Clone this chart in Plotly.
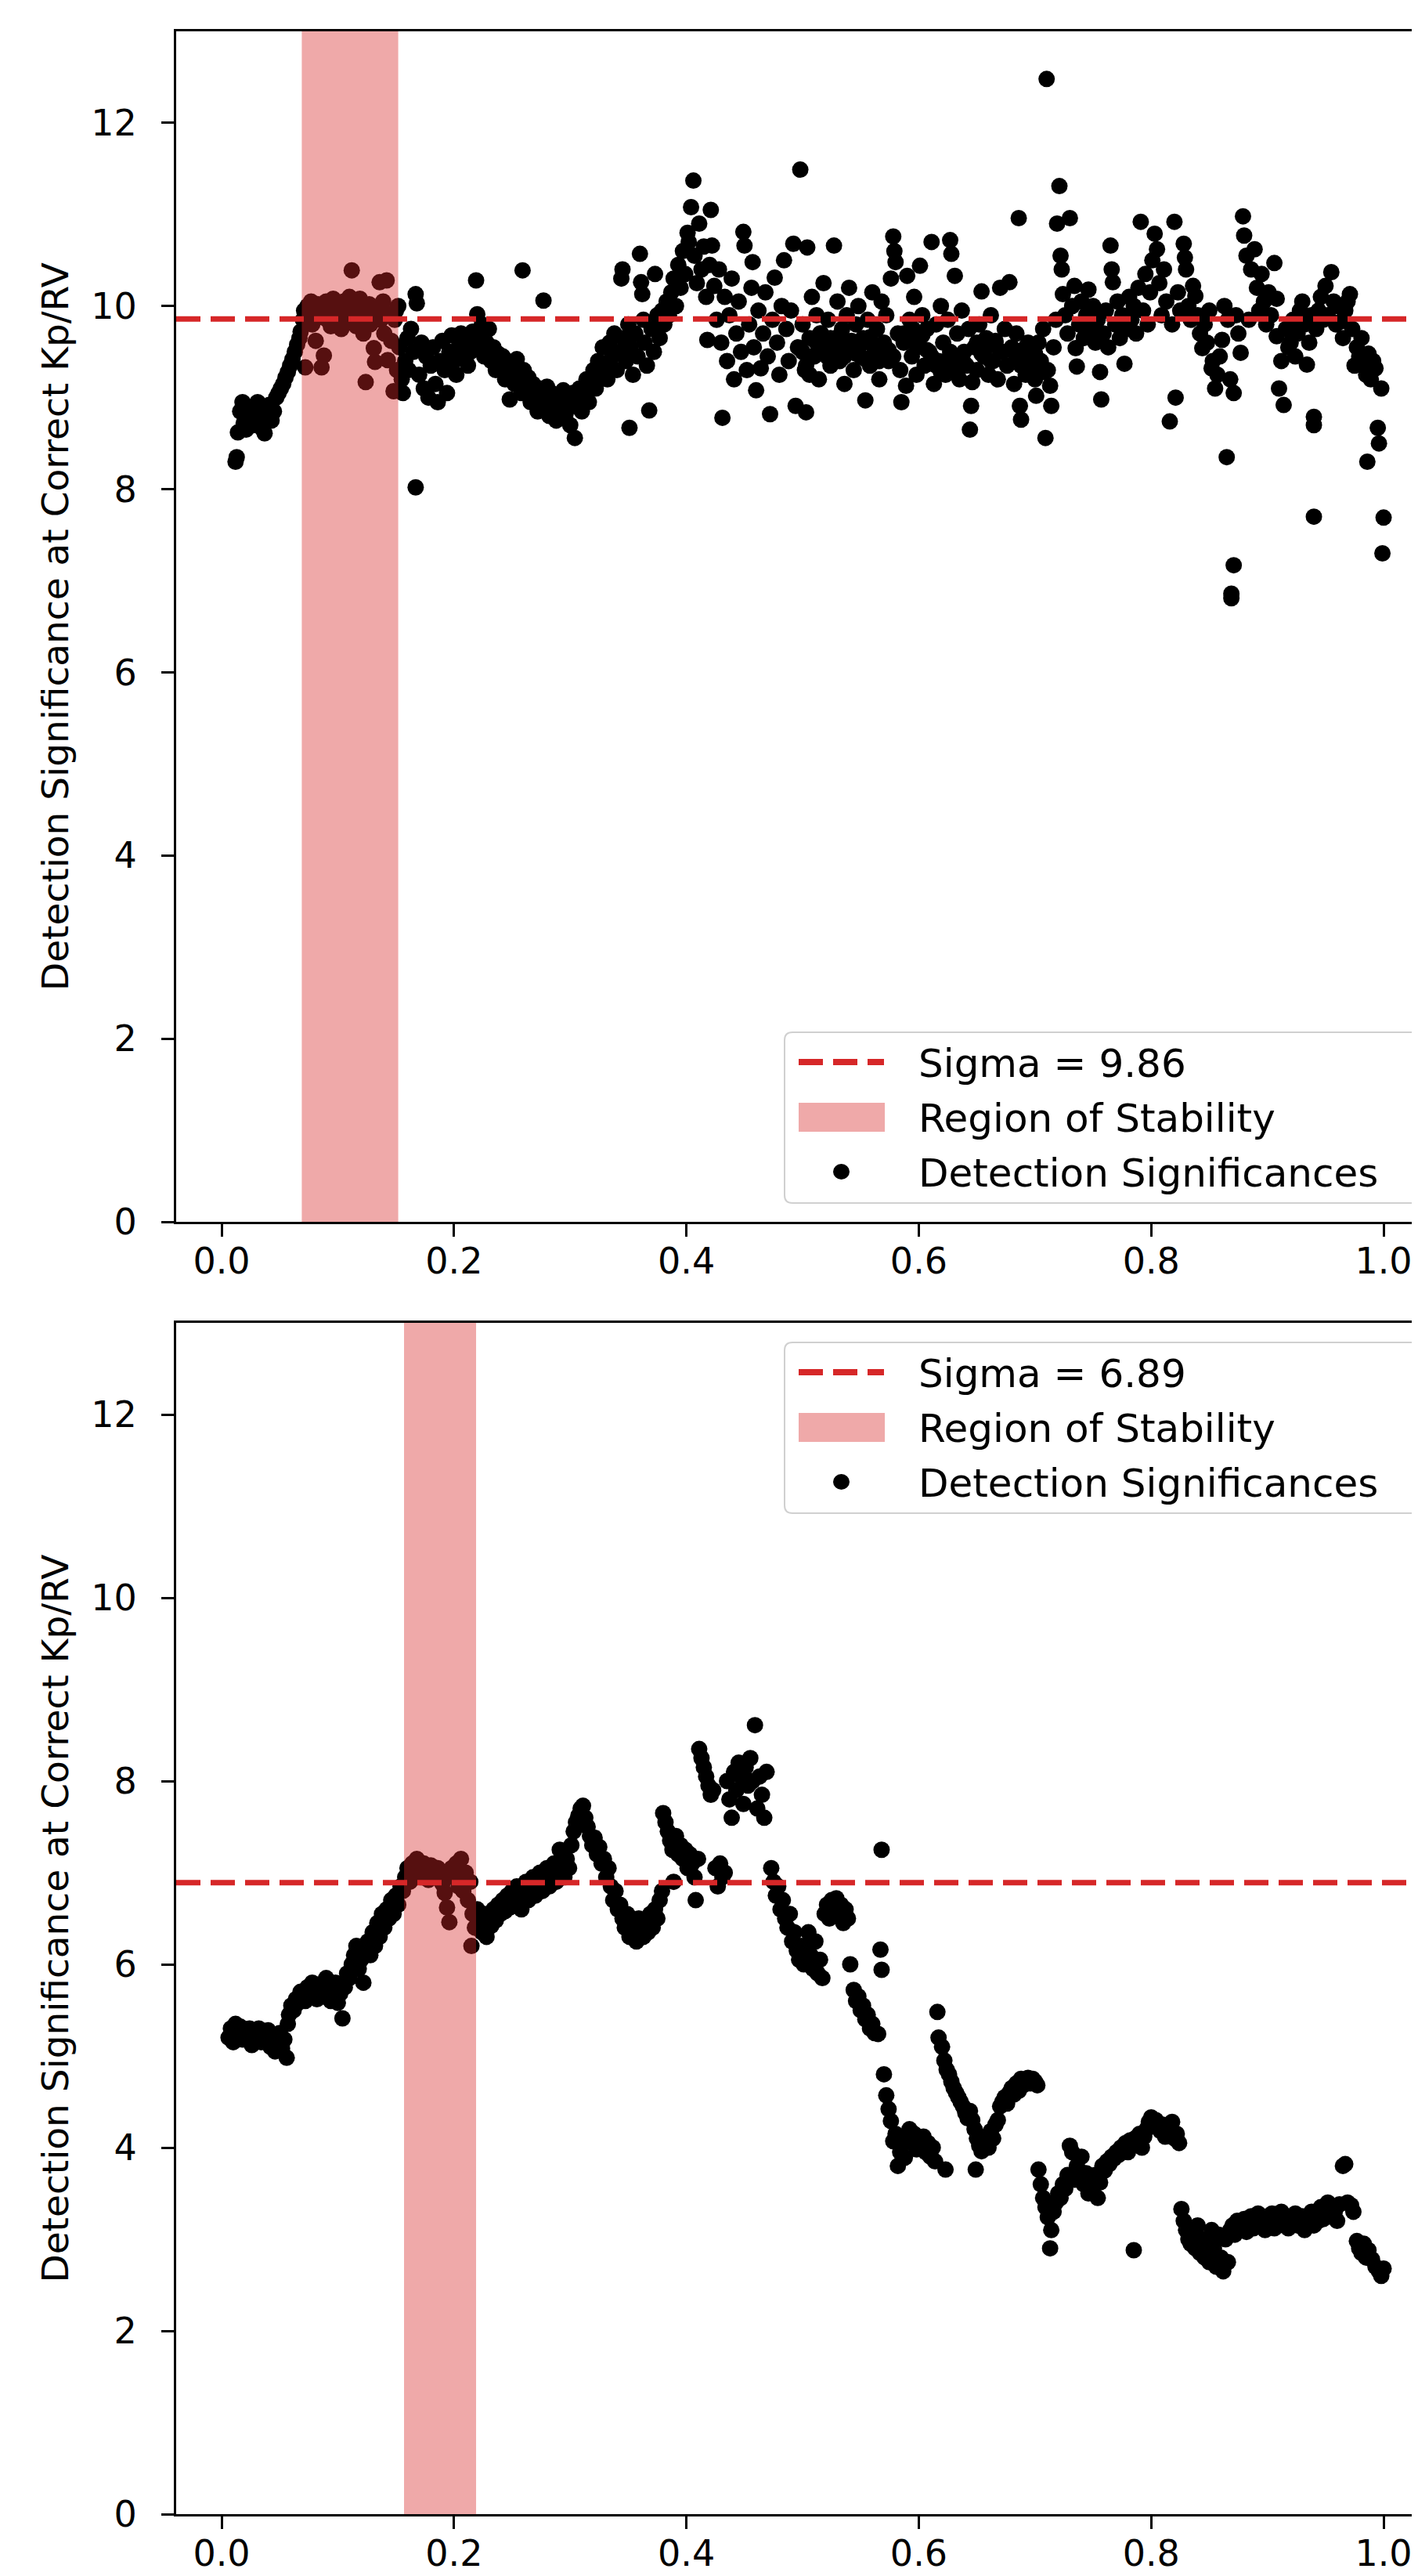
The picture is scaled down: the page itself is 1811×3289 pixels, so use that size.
import plotly.graph_objects as go

# ---------------- data ----------------
top_sigma = 9.86
bot_sigma = 6.89
top_band = [0.069, 0.152]
bot_band = [0.157, 0.219]
x_range = [-0.0391, 1.035]
y_range = [0, 13]
x_ticks = [0.0, 0.2, 0.4, 0.6, 0.8, 1.0]
y_ticks = [0, 2, 4, 6, 8, 10, 12]
legend_labels = ["Region of Stability", "Detection Significances"]

top_x_a = [0.012,0.013,0.014,0.016,0.018, 0.019,0.021,0.023,0.025,0.027, 0.029,0.031,0.033,0.035,0.037, 0.039,0.041,0.043,0.045,0.047]
top_y_a = [8.30,8.35,8.62,8.85,8.95, 8.72,8.65,8.90,8.78,8.70, 8.85,8.95,8.75,8.66,8.61, 8.80,8.92,8.75,8.85,9.00]

top_x_b = [0.049,0.051,0.053,0.055,0.057, 0.059,0.061,0.063,0.065,0.067, 0.068]
top_y_b = [9.05,9.10,9.15,9.22,9.28, 9.35,9.42,9.50,9.58,9.65, 9.72]

top_x_c = [0.070,0.071,0.072,0.074,0.075, 0.077,0.078,0.080,0.081,0.083, 0.084,0.086,0.087,0.088,0.090,
           0.091,0.093,0.094,0.096,0.097, 0.099,0.100,0.102,0.103,0.105, 0.107,0.108,0.110,0.112,0.113,
           0.115,0.116,0.118,0.119,0.121, 0.122,0.124,0.125,0.127,0.128, 0.130,0.131,0.132,0.134,0.136,
           0.137,0.139,0.140,0.142,0.143, 0.144,0.146,0.148,0.149,0.150, 0.151,0.152]
top_y_c = [9.85,9.95,9.33,10.00,9.90, 10.05,9.80,9.98,9.62,10.02, 9.88,9.33,9.95,9.46,10.05,
           9.85,9.98,9.78,10.08,9.92, 9.80,10.02,9.88,9.75,10.05, 9.95,9.82,10.10,10.39,9.90,
           10.02,9.78,9.95,10.08,9.85, 9.70,9.17,9.95,10.02,9.80, 9.90,9.54,9.39,9.98,10.26,
           9.85,10.05,9.70,10.28,9.41, 9.90,9.62,9.07,9.85,9.95, 9.30,10.00]

top_x_d = [0.153,0.155,0.156,0.158,0.160, 0.161,0.163,0.165,0.167,0.168, 0.167,0.170,0.172,0.174,0.176,
           0.178,0.180,0.182,0.184,0.186, 0.188,0.190,0.192,0.194,0.196, 0.198,0.200,0.202,0.204,0.206,
           0.208,0.210,0.212,0.214,0.216, 0.218,0.219,0.220,0.222,0.224, 0.226,0.228,0.230,0.232,0.234,
           0.236,0.238,0.240]
top_y_d = [9.55,9.20,9.05,9.40,9.65, 9.30,9.75,9.50,10.13,10.03, 8.02,9.25,9.60,9.10,9.45,
           9.00,9.35,9.55,9.15,8.95, 9.40,9.62,9.30,9.05,9.50, 9.68,9.40,9.25,9.55,9.70,
           9.45,9.60,9.35,9.50,9.72, 9.55,10.28,9.91,9.65,9.80, 9.45,9.60,9.75,9.40,9.55,
           9.30,9.48,9.35]

top_x_e = [0.242,0.244,0.246,0.248,0.250, 0.252,0.254,0.256,0.258,0.259, 0.260,0.262,0.264,0.266,0.268,
           0.270,0.272,0.274,0.276,0.277, 0.278,0.280,0.282,0.284,0.286, 0.288,0.290,0.292,0.294,0.296,
           0.298,0.300,0.302,0.304,0.306, 0.308,0.310,0.312,0.314,0.316, 0.318]
top_y_e = [9.45,9.20,9.38,8.98,9.30, 9.15,9.42,9.25,9.05,10.39, 9.30,9.10,9.22,8.95,9.15,
           9.05,8.85,9.10,9.00,10.06, 8.90,9.12,8.80,9.05,8.95, 8.75,9.00,8.88,9.08,8.82,
           8.95,8.70,9.05,8.56,8.90, 9.10,8.85,9.00,9.20,8.95, 9.15]

top_x_f = [0.320,0.322,0.324,0.326,0.328, 0.330,0.332,0.334,0.336,0.338, 0.340,0.342,0.344,0.345,0.346,
           0.348,0.350,0.351,0.352,0.354, 0.356,0.358,0.360,0.361,0.362, 0.363,0.364,0.366,0.368,0.370,
           0.372,0.373,0.375,0.377,0.379, 0.381,0.383,0.385,0.387,0.389, 0.391,0.393,0.395,0.397,0.399,
           0.401,0.402,0.404,0.406,0.407, 0.409,0.411,0.413,0.415,0.417, 0.418,0.420]
top_y_f = [9.30,9.10,9.40,9.25,9.55, 9.35,9.20,9.60,9.45,9.70, 9.30,9.50,10.30,10.40,9.65,
           9.40,9.80,8.67,9.55,9.25, 9.70,9.45,10.57,10.26,10.13, 9.85,9.60,9.35,8.86,9.75,
           9.50,10.35,9.90,9.65,9.95, 9.80,10.05,9.90,10.15,10.30, 10.00,10.45,10.20,10.60,10.35,
           10.80,10.70,11.08,11.37,10.55, 10.25,10.90,10.40,10.65,10.10, 9.63,10.45]

top_x_g = [0.421,0.422,0.424,0.426,0.428, 0.430,0.431,0.433,0.435,0.437, 0.439,0.441,0.443,0.445,0.447,
           0.449,0.450,0.452,0.454,0.456, 0.457,0.458,0.460,0.462,0.464, 0.466,0.468,0.470,0.472,0.474,
           0.476,0.478,0.480,0.482,0.484, 0.486,0.488,0.490,0.492,0.494, 0.496,0.498,0.500,0.502,0.503,
           0.504,0.506,0.508,0.510,0.512, 0.514,0.516,0.518,0.520,0.522, 0.524,0.527,0.528,0.530,0.532,
           0.534,0.536,0.538,0.540,0.542, 0.544,0.546,0.548,0.550,0.552, 0.554,0.556,0.558,0.560,0.562,
           0.564,0.566,0.568,0.570,0.572, 0.574,0.576,0.578,0.579,0.580, 0.582,0.584,0.585,0.587,0.589,
           0.590,0.592,0.594,0.596,0.598, 0.600,0.601,0.603,0.605,0.607, 0.609,0.611,0.613,0.615,0.617,
           0.619,0.621,0.623,0.625,0.627, 0.628,0.630,0.631,0.633,0.635, 0.637,0.639,0.641,0.643,0.644,
           0.645,0.646,0.648,0.650,0.652, 0.654,0.656,0.658,0.660,0.662, 0.664,0.666,0.668,0.670,0.672,
           0.674,0.676,0.678,0.680,0.682, 0.684,0.686,0.687,0.688,0.690, 0.692,0.694,0.696,0.698,0.700,
           0.701]
top_y_g = [11.05,10.66,10.22,9.85,10.40, 9.60,8.78,10.10,9.40,9.90, 10.30,9.20,9.70,10.05,9.50,
           10.81,10.66,9.30,9.80,10.20, 10.48,9.55,9.08,9.95,9.32, 9.70,10.15,9.45,8.82,9.85,
           10.31,9.60,9.25,10.00,10.50, 9.75,9.40,9.95,10.68,8.91, 9.55,11.49,9.80,9.30,8.84,
           10.64,9.65,10.10,9.45,9.90, 9.20,9.70,10.25,9.50,9.85, 9.35,10.66,9.60,10.05,9.40,
           9.75,9.15,9.90,10.20,9.55, 9.30,9.80,10.00,9.45,9.65, 8.97,9.85,9.35,10.15,9.55,
           9.75,9.20,10.05,9.50,9.90, 9.40,10.30,10.76,10.60,10.48, 9.70,9.30,8.95,9.60,9.13,
           10.33,9.85,9.45,10.10,9.25, 9.65,10.44,9.90,9.35,9.75, 9.50,10.70,9.15,9.80,9.40,
           10.00,9.60,9.25,9.85,10.72, 10.57,9.45,10.33,9.70,9.20, 9.95,9.50,9.35,9.75,8.65,
           8.91,9.17,9.55,9.30,9.80, 10.16,9.45,9.65,9.25,9.90, 9.40,9.60,9.20,10.20,9.50,
           9.75,9.35,10.26,9.55,9.15, 9.70,10.96,8.91,8.76,9.45, 9.25,9.60,9.35,9.50,9.20,
           9.02]

# denser core just below the sigma line (0.50 - 0.71)
top_x_j = [0.500,0.503,0.506,0.509,0.512, 0.515,0.518,0.521,0.524,0.527, 0.530,0.533,0.536,0.539,0.542,
           0.546,0.550,0.554,0.558,0.562, 0.566,0.570,0.574,0.578,0.587, 0.591,0.595,0.599,0.603,0.607,
           0.611,0.615,0.619,0.623,0.627, 0.631,0.635,0.639,0.650,0.654, 0.658,0.662,0.666,0.670,0.684,
           0.688,0.692,0.696,0.700,0.704, 0.708]
top_y_j = [9.50,9.35,9.25,9.45,9.60, 9.70,9.55,9.45,9.65,9.50, 9.60,9.70,9.45,9.55,9.62,
           9.48,9.58,9.42,9.66,9.50, 9.40,9.60,9.52,9.45,9.70, 9.62,9.75,9.55,9.68,9.52,
           9.45,9.35,9.28,9.40,9.50, 9.32,9.45,9.38,9.60,9.48, 9.55,9.40,9.62,9.50,9.45,
           9.35,9.55,9.30,9.48,9.40, 9.28]

top_x_h = [0.703,0.705,0.707,0.709,0.710, 0.711,0.713,0.714,0.716,0.718, 0.719,0.721,0.722,0.723,0.724,
           0.726,0.728,0.730,0.732,0.734, 0.735,0.736,0.738,0.740,0.742, 0.744,0.746,0.748,0.750,0.752,
           0.754,0.756,0.757,0.759,0.761, 0.763,0.765,0.766,0.767,0.769, 0.771,0.773,0.775,0.777,0.779,
           0.781,0.783,0.785,0.787,0.789, 0.791,0.793,0.795,0.797,0.799, 0.801,0.803,0.805,0.807,0.809,
           0.811,0.813,0.816,0.818,0.820, 0.821,0.823,0.825,0.828,0.829, 0.830,0.832,0.834,0.836,0.838,
           0.840,0.842,0.844,0.846,0.848, 0.850]
top_y_h = [9.60,9.40,9.75,8.56,12.48, 9.30,9.13,8.91,9.55,9.85, 10.90,11.31,10.55,10.40,10.13,
           9.90,9.70,10.96,10.00,10.22, 9.54,9.34,9.80,10.05,9.65, 9.90,10.18,9.75,10.00,9.60,
           9.85,9.28,8.98,9.70,9.95, 9.55,10.66,10.40,10.26,9.80, 10.05,9.65,9.90,9.37,9.75,
           10.10,9.85,10.00,9.70,10.20, 10.92,9.95,10.35,9.80,10.15, 10.50,10.79,10.62,10.25,9.90,
           10.40,10.05,8.74,9.80,10.92, 9.00,10.15,9.95,10.68,10.53, 10.40,10.00,9.85,10.22,10.11,
           9.90,9.70,9.54,9.80,9.60, 9.95]

top_x_i = [0.852,0.853,0.855,0.857,0.859, 0.861,0.863,0.865,0.866,0.868, 0.869,0.869,0.871,0.871,0.873,
           0.875,0.877,0.879,0.880,0.882, 0.884,0.886,0.889,0.891,0.893, 0.895,0.897,0.899,0.901,0.903,
           0.906,0.908,0.908,0.910,0.912, 0.914,0.916,0.918,0.920,0.922, 0.924,0.926,0.928,0.930,0.932,
           0.934,0.936,0.938,0.940,0.940, 0.940,0.942,0.944,0.946,0.948, 0.950,0.952,0.955,0.957,0.959,
           0.961,0.963,0.965,0.967,0.969, 0.971,0.973,0.975,0.977,0.979, 0.981,0.983,0.985,0.986,0.987,
           0.989,0.991,0.993,0.995,0.996, 0.998,0.999,1.000]
top_y_i = [9.32,9.40,9.10,9.25,9.45, 9.63,10.00,8.35,9.85,9.20, 6.86,6.81,7.17,9.05,9.90,
           9.70,9.49,10.98,10.77,10.55, 9.85,10.40,10.62,10.20,9.95, 10.35,10.05,9.80,10.15,9.90,
           10.47,10.08,9.67,9.10,9.40, 8.92,9.75,9.55,9.60,9.85, 9.45,9.70,9.95,10.05,9.80,
           9.36,9.60,9.90,8.79,8.70, 7.70,9.75,9.95,10.10,9.85, 10.22,9.90,10.37,10.05,9.80,
           10.00,9.83,9.65,9.95,10.05, 10.13,9.75,9.35,9.55,9.45, 9.65,9.40,9.25,8.30,9.48,
           9.20,9.40,9.32,8.67,8.50, 9.10,7.30,7.69]

bot_x_a = [0.006,0.008,0.010,0.012,0.014, 0.016,0.018,0.020,0.022,0.024, 0.026,0.028,0.030,0.032,0.034,
           0.036,0.038,0.040,0.042,0.044, 0.046,0.048,0.050,0.052,0.054, 0.056,0.057]
bot_y_a = [5.20,5.30,5.15,5.35,5.25, 5.32,5.18,5.28,5.22,5.30, 5.12,5.25,5.20,5.30,5.15,
           5.24,5.18,5.28,5.10,5.22, 5.05,5.15,5.25,5.08,5.18, 4.98,5.35]

bot_x_b = [0.058,0.060,0.062,0.064,0.066, 0.068,0.070,0.072,0.074,0.076, 0.078,0.080,0.082,0.084,0.086,
           0.088,0.090,0.092,0.094,0.096, 0.098,0.100,0.102,0.104,0.106, 0.108,0.110,0.112,0.114,0.116,
           0.118,0.120,0.122,0.124,0.126, 0.128,0.130,0.132,0.134,0.136, 0.138,0.140,0.142,0.144,0.146,
           0.148,0.150,0.152,0.154,0.156]
bot_y_b = [5.45,5.55,5.50,5.62,5.58, 5.70,5.65,5.60,5.75,5.68, 5.80,5.72,5.62,5.78,5.70,
           5.65,5.85,5.75,5.60,5.70, 5.80,5.58,5.68,5.41,5.75, 5.90,5.85,6.00,6.10,6.20,
           5.95,6.05,5.80,6.15,6.25, 6.10,6.35,6.20,6.45,6.30, 6.55,6.40,6.60,6.50,6.70,
           6.55,6.75,6.65,6.85,6.80]

bot_x_c = [0.158,0.160,0.162,0.164,0.166, 0.168,0.170,0.172,0.174,0.176, 0.178,0.180,0.182,0.184,0.186,
           0.188,0.190,0.192,0.194,0.196, 0.198,0.200,0.202,0.204,0.206, 0.208,0.210,0.212,0.214,0.215,
           0.216,0.218,0.220]
bot_y_c = [6.95,7.05,6.90,7.10,7.00, 7.15,7.05,6.95,7.10,7.02, 6.92,7.08,7.00,6.95,7.05,
           6.98,6.88,6.78,6.62,6.46, 7.05,6.95,7.10,6.85,7.15, 6.80,7.00,6.70,6.90,6.20,
           6.55,6.40,6.60]

bot_x_d = [0.222,0.224,0.226,0.228,0.230, 0.232,0.234,0.236,0.238,0.240, 0.242,0.244,0.246,0.248,0.250,
           0.252,0.254,0.256,0.258,0.260, 0.262,0.264,0.266,0.268,0.270, 0.272,0.274,0.276,0.278,0.280,
           0.282,0.284,0.286,0.288,0.290, 0.291,0.293,0.295,0.297,0.299, 0.301]
bot_y_d = [6.45,6.35,6.55,6.30,6.50, 6.42,6.60,6.48,6.65,6.55, 6.70,6.58,6.75,6.62,6.80,
           6.68,6.85,6.72,6.60,6.78, 6.90,6.70,6.82,6.95,6.75, 6.88,7.00,6.80,6.92,7.05,
           6.85,7.00,7.10,6.90,7.05, 7.25,7.10,6.95,7.15,7.05, 7.30]

bot_x_e = [0.303,0.305,0.307,0.309,0.311, 0.313,0.315,0.317,0.319,0.321, 0.323,0.325,0.327,0.329,0.331,
           0.333,0.335,0.337,0.339,0.341, 0.343,0.345,0.347,0.349,0.351, 0.353,0.355,0.357,0.359,0.361,
           0.363,0.365,0.367,0.369,0.371, 0.373,0.375,0.377,0.379,0.380, 0.382,0.384,0.386,0.388,0.389]
bot_y_e = [7.45,7.55,7.62,7.70,7.73, 7.60,7.50,7.40,7.30,7.38, 7.20,7.28,7.10,7.15,6.95,
           7.05,6.85,6.70,6.80,6.60, 6.65,6.50,6.40,6.55,6.30, 6.45,6.35,6.25,6.50,6.40,
           6.30,6.45,6.35,6.55,6.40, 6.60,6.50,6.70,6.80,7.65, 7.55,7.45,7.35,7.25,6.90]

bot_x_f = [0.391,0.393,0.395,0.397,0.399, 0.401,0.403,0.405,0.407,0.408, 0.410,0.411,0.413,0.415,0.417,
           0.419,0.421,0.423,0.425,0.427, 0.429,0.431,0.433,0.435,0.437, 0.439,0.441,0.443,0.445,0.447,
           0.449,0.451,0.453,0.455,0.457, 0.459,0.461,0.463,0.465,0.467, 0.469,0.473,0.475,0.477,0.479,
           0.481,0.483,0.485,0.487,0.489, 0.491,0.493,0.495,0.497,0.499, 0.501]
bot_y_f = [7.40,7.20,7.30,7.15,7.25, 7.05,7.20,7.10,6.95,6.70, 7.15,8.35,8.25,8.15,8.05,
           7.95,7.85,7.90,7.05,6.85, 7.10,6.95,7.00,8.00,7.80, 7.60,8.10,7.90,8.20,8.05,
           7.75,8.15,7.95,8.25,8.00, 8.61,7.70,8.05,7.85,7.60, 8.10,7.05,6.90,6.75,6.85,
           6.60,6.70,6.50,6.40,6.55, 6.25,6.35,6.15,6.05,6.20, 6.00]

bot_x_g = [0.503,0.505,0.507,0.509,0.511, 0.513,0.515,0.517,0.519,0.521, 0.523,0.525,0.527,0.529,0.531,
           0.533,0.535,0.537,0.539,0.541, 0.544,0.546,0.548,0.550,0.552, 0.554,0.556,0.558,0.560,0.562,
           0.565,0.567,0.568,0.568,0.570, 0.572,0.574,0.576,0.578,0.580, 0.582,0.584,0.586,0.588,0.590,
           0.592,0.594,0.596,0.598,0.600, 0.602,0.604,0.606,0.608,0.610, 0.612,0.614,0.616,0.617,0.620,
           0.622,0.623,0.624,0.626,0.628, 0.630,0.632,0.634,0.636,0.638, 0.640,0.642,0.644,0.646,0.648,
           0.649,0.650,0.652,0.654,0.656, 0.658,0.660,0.662,0.664,0.666, 0.668,0.670,0.672,0.674,0.676,
           0.678,0.680,0.682,0.684,0.686, 0.688,0.690,0.692,0.694,0.696, 0.698,0.700,0.702]
bot_y_g = [6.20,6.35,6.10,5.95,6.25, 5.90,6.05,5.85,6.55,6.65, 6.50,6.70,6.60,6.72,6.55,
           6.65,6.45,6.60,6.50,6.00, 5.72,5.60,5.65,5.50,5.55, 5.40,5.45,5.30,5.35,5.25,
           5.24,6.16,5.94,7.25,4.80, 4.57,4.42,4.29,4.07,4.15, 3.80,3.95,4.05,3.89,4.10,
           4.20,4.05,4.15,3.98,4.10, 4.02,4.12,3.95,4.05,3.90, 4.00,3.85,5.48,5.20,5.10,
           4.95,3.76,4.85,4.80,4.72, 4.65,4.60,4.55,4.50,4.45, 4.38,4.32,4.40,4.30,4.20,
           3.76,4.10,4.02,3.96,4.05, 4.12,4.00,4.18,4.10,4.25, 4.30,4.45,4.50,4.55,4.48,
           4.60,4.65,4.58,4.70,4.62, 4.75,4.68,4.72,4.76,4.70, 4.75,4.72,4.68]

bot_x_h = [0.703,0.705,0.707,0.709,0.711, 0.713,0.714,0.716,0.718,0.720, 0.722,0.724,0.726,0.728,0.730,
           0.732,0.734,0.736,0.738,0.740, 0.742,0.744,0.746,0.748,0.750, 0.752,0.754,0.756,0.758,0.760,
           0.762,0.764,0.766,0.768,0.770, 0.772,0.774,0.776,0.778,0.780, 0.782,0.784,0.785,0.786,0.788,
           0.790,0.792,0.794,0.796,0.798, 0.800,0.802,0.804,0.806,0.808, 0.810,0.812,0.814,0.816,0.818,
           0.820,0.822,0.824,0.826]
bot_y_h = [3.76,3.60,3.45,3.35,3.24, 2.90,3.10,3.30,3.40,3.50, 3.45,3.60,3.55,3.70,4.02,
           3.95,3.65,3.80,3.75,3.90, 3.60,3.72,3.50,3.65,3.58, 3.70,3.45,3.62,3.80,3.75,
           3.85,3.82,3.90,3.88,3.95, 3.92,4.00,3.98,4.05,3.95, 4.08,4.02,2.88,4.10,4.05,
           4.15,4.00,4.12,4.20,4.28, 4.33,4.25,4.30,4.22,4.18, 4.25,4.12,4.20,4.15,4.28,
           4.10,4.15,4.05,3.33]

bot_x_i = [0.828,0.830,0.832,0.834,0.836, 0.838,0.840,0.842,0.844,0.846, 0.848,0.850,0.852,0.854,0.856,
           0.858,0.860,0.862,0.864,0.866, 0.868,0.870,0.872,0.874,0.876, 0.878,0.880,0.882,0.884,0.886,
           0.888,0.890,0.892,0.894,0.896, 0.898,0.900,0.902,0.904,0.906, 0.908,0.910,0.912,0.914,0.916,
           0.918,0.920,0.922,0.924,0.926, 0.928,0.930,0.932,0.934,0.936, 0.938,0.940,0.942,0.944,0.946,
           0.948,0.950,0.952,0.954,0.956, 0.958,0.960,0.962,0.965,0.967, 0.969,0.972,0.974,0.977,0.979,
           0.981,0.983,0.985,0.987,0.990, 0.993,0.996,0.998,1.000]
bot_y_i = [3.20,3.10,3.00,2.95,3.05, 2.90,3.15,2.85,3.00,2.80, 2.95,2.75,3.10,2.90,2.70,
           3.05,2.80,2.65,3.00,2.75, 3.10,3.15,3.05,3.20,3.10, 3.15,3.22,3.08,3.18,3.25,
           3.12,3.20,3.28,3.15,3.22, 3.10,3.25,3.18,3.28,3.12, 3.22,3.15,3.30,3.20,3.25,
           3.12,3.22,3.18,3.28,3.15, 3.20,3.25,3.10,3.22,3.18, 3.30,3.15,3.25,3.20,3.35,
           3.22,3.28,3.40,3.25,3.35, 3.30,3.20,3.38,3.80,3.82, 3.40,3.37,3.30,2.98,2.90,
           2.85,2.95,2.80,2.88,2.78, 2.70,2.65,2.60,2.68]


def join(pairs):
    xs, ys = [], []
    for xl, yl in pairs:
        for a, b in zip(xl, yl):
            xs.append(a)
            ys.append(b)
    return xs, ys


top_x, top_y = join([(top_x_a, top_y_a), (top_x_b, top_y_b), (top_x_c, top_y_c), (top_x_d, top_y_d),
                     (top_x_e, top_y_e), (top_x_f, top_y_f), (top_x_g, top_y_g), (top_x_j, top_y_j),
                     (top_x_h, top_y_h), (top_x_i, top_y_i)])
bot_x, bot_y = join([(bot_x_a, bot_y_a), (bot_x_b, bot_y_b), (bot_x_c, bot_y_c), (bot_x_d, bot_y_d),
                     (bot_x_e, bot_y_e), (bot_x_f, bot_y_f), (bot_x_g, bot_y_g), (bot_x_h, bot_y_h),
                     (bot_x_i, bot_y_i)])

# ---------------- styling ----------------
W, H = 1811, 3289
FONT = "DejaVu Sans"
RED = "#d62728"
BAND = "rgba(214,39,40,0.4)"
TICK_FS = 46
LEG_FS = 50


def px(v):
    return v / W


def py(v):
    return 1 - v / H


fig = go.Figure()

panels = [
    (top_x, top_y, top_sigma, top_band, "x", "y"),
    (bot_x, bot_y, bot_sigma, bot_band, "x2", "y2"),
]
for xs, ys, sigma, band, xa, ya in panels:
    fig.add_trace(go.Scatter(
        x=xs, y=ys, mode="markers", name="Detection Significances",
        marker=dict(color="black", size=21, line=dict(width=0)),
        xaxis=xa, yaxis=ya, showlegend=False))
    fig.add_trace(go.Scatter(
        x=[band[0], band[1], band[1], band[0], band[0]],
        y=[y_range[0], y_range[0], y_range[1], y_range[1], y_range[0]],
        mode="lines", fill="toself", fillcolor=BAND, line=dict(width=0, color=BAND),
        name="Region of Stability", xaxis=xa, yaxis=ya, showlegend=False,
        hoverinfo="skip"))
    fig.add_trace(go.Scatter(
        x=x_range, y=[sigma, sigma], mode="lines", name=f"Sigma = {sigma:.2f}",
        line=dict(color=RED, width=7, dash="31px,13px"),
        xaxis=xa, yaxis=ya, showlegend=False))

xdom = [217 / W, 1.0]
ydom_top = [1 - 1552 / H, 1 - 32 / H]
ydom_bot = [1 - 3202 / H, 1 - 1681 / H]

xcommon = dict(domain=xdom, range=x_range, tickvals=x_ticks, tickformat=".1f",
               ticks="outside", ticklen=16, tickwidth=3, tickcolor="black",
               showline=True, linecolor="black", linewidth=3, mirror=True,
               showgrid=False, zeroline=False, automargin=False,
               tickfont=dict(family=FONT, size=TICK_FS, color="black"), ticklabelstandoff=-8)
ycommon = dict(range=y_range, tickvals=y_ticks,
               ticks="outside", ticklen=16, tickwidth=3, tickcolor="black",
               showline=True, linecolor="black", linewidth=3, mirror=False,
               showgrid=False, zeroline=False, automargin=False,
               tickfont=dict(family=FONT, size=TICK_FS, color="black"), ticklabelstandoff=22)

# ---------- legends (matplotlib-style, drawn at the reference's pixel positions) ----------
shapes = []
annotations = []
title_text = "Detection Significance at Correct Kp/RV"


def add_legend(box_top, sigma):
    left, right = 994, 1806
    top, bottom = box_top, box_top + 218
    r = 10
    path = (f"M {px(left + r)},{py(top)} L {px(right - r)},{py(top)} "
            f"Q {px(right)},{py(top)} {px(right)},{py(top + r)} "
            f"L {px(right)},{py(bottom - r)} Q {px(right)},{py(bottom)} {px(right - r)},{py(bottom)} "
            f"L {px(left + r)},{py(bottom)} Q {px(left)},{py(bottom)} {px(left)},{py(bottom - r)} "
            f"L {px(left)},{py(top + r)} Q {px(left)},{py(top)} {px(left + r)},{py(top)} Z")
    shapes.append(dict(type="path", path=path, xref="paper", yref="paper",
                       fillcolor="rgba(255,255,255,0.8)", line=dict(color="#d0d0d0", width=2),
                       layer="above"))
    rows = [top + 38, top + 108, top + 178]
    shapes.append(dict(type="line", xref="paper", yref="paper",
                       x0=px(1012), x1=px(1121), y0=py(rows[0]), y1=py(rows[0]),
                       line=dict(color=RED, width=8, dash="31px,13px"), layer="above"))
    shapes.append(dict(type="rect", xref="paper", yref="paper",
                       x0=px(1012), x1=px(1122), y0=py(rows[1] - 18), y1=py(rows[1] + 19),
                       fillcolor=BAND, line=dict(width=0), layer="above"))
    shapes.append(dict(type="circle", xref="paper", yref="paper",
                       x0=px(1056), x1=px(1077), y0=py(rows[2] - 10), y1=py(rows[2] + 10),
                       fillcolor="black", line=dict(width=0), layer="above"))
    labels = [f"Sigma = {sigma:.2f}"] + legend_labels
    for lab, rr in zip(labels, rows):
        annotations.append(dict(text=lab, xref="paper", yref="paper", x=px(1163), y=py(rr + 2),
                                xanchor="left", yanchor="middle", showarrow=False,
                                font=dict(family=FONT, size=LEG_FS, color="black")))


add_legend(1310, top_sigma)
add_legend(1706, bot_sigma)

for dom in (ydom_top, ydom_bot):
    annotations.append(dict(text=title_text, textangle=-90, xref="paper", yref="paper",
                            x=62 / W, y=(dom[0] + dom[1]) / 2, xanchor="center", yanchor="middle",
                            showarrow=False, font=dict(family=FONT, size=47, color="black")))

fig.update_layout(
    width=W, height=H, margin=dict(l=0, r=0, t=0, b=0, autoexpand=False),
    paper_bgcolor="white", plot_bgcolor="white",
    font=dict(family=FONT, color="black"),
    xaxis=dict(anchor="y", **xcommon),
    xaxis2=dict(anchor="y2", **xcommon),
    yaxis=dict(anchor="x", domain=ydom_top, **ycommon),
    yaxis2=dict(anchor="x2", domain=ydom_bot, **ycommon),
    shapes=shapes,
    annotations=annotations,
    showlegend=False,
)

fig.write_html("out.html")
